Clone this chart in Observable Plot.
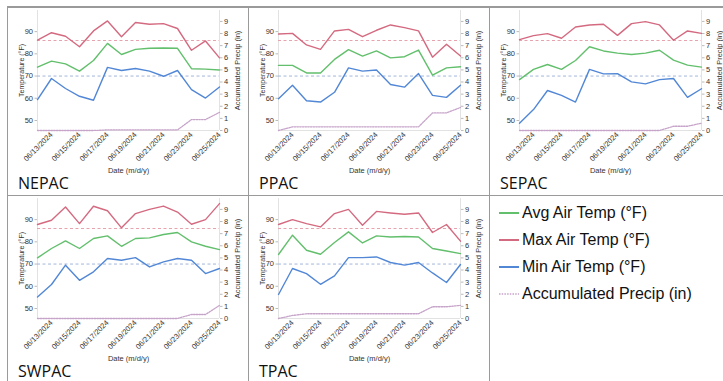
<!DOCTYPE html>
<html>
<head>
<meta charset="utf-8">
<script src="https://cdn.jsdelivr.net/npm/d3@7"></script>
<script src="https://cdn.jsdelivr.net/npm/@observablehq/plot@0.6"></script>
<style>
  html, body { margin: 0; padding: 0; background: #fff; }
  #root { position: relative; width: 723px; height: 381px; overflow: hidden; background: #fff; font-family: "Liberation Sans", Arial, sans-serif; }
  .hline, .vline { position: absolute; background: #9a9a9a; }
  .panel { position: absolute; width: 241px; height: 188px; }
  .panel svg { position: absolute; left: 0; top: 0; }
  .ptitle { position: absolute; left: 10px; top: 167px; font-family: "Open Sans", sans-serif; font-size: 16px; line-height: 16px; color: #111; }
  .legend { position: absolute; }
  .litem { position: absolute; left: 0; height: 20px; display: flex; align-items: center; white-space: nowrap; font-family: "Liberation Sans", Arial, sans-serif; font-size: 16px; color: #111; }
  .litem svg { margin-right: 3px; }
</style>
</head>
<body>
<div id="root"></div>
<script>
// ---- data ----
const dates = ["2024-06-12","2024-06-13","2024-06-14","2024-06-15","2024-06-16","2024-06-17","2024-06-18",
               "2024-06-19","2024-06-20","2024-06-21","2024-06-22","2024-06-23","2024-06-24","2024-06-25"];
const xTickDates = ["2024-06-13","2024-06-15","2024-06-17","2024-06-19","2024-06-21","2024-06-23","2024-06-25"];
const stations = ["NEPAC","PPAC","SEPAC","SWPAC","TPAC"];
const tempTicks = [50, 60, 70, 80, 90];
const precipTicks = [0,1,2,3,4,5,6,7,8,9];
const maxThreshold = 86;
const minThreshold = 70;

const nepacMax = [86.2,89.5,87.9,83.2,90.3,94.8,87.7,94.1,93.3,93.6,91.4,81.6,85.8,78.2];
const nepacAvg = [74.0,76.7,75.5,72.2,77.0,84.7,79.7,82.0,82.5,82.6,82.5,73.3,73.1,72.7];
const nepacMin = [59.4,68.9,64.4,60.9,59.1,73.9,72.5,73.4,72.2,69.9,72.5,63.9,60.1,65.1];
const nepacPrecip = [0,0,0,0,0,0.05,0.05,0.05,0.05,0.05,0.05,0.9,0.9,1.5];

const ppacMax = [88.9,89.2,84.0,82.0,90.3,91.0,87.7,90.6,93.0,91.8,90.3,78.5,84.3,79.0];
const ppacAvg = [74.8,74.8,71.4,71.4,77.5,81.9,79.0,81.3,78.2,78.7,81.7,70.4,73.7,74.2];
const ppacMin = [59.8,65.9,58.9,58.3,62.7,73.7,72.2,72.7,66.2,65.0,71.1,61.3,60.4,65.9];
const ppacPrecip = [0,0.3,0.3,0.3,0.3,0.3,0.3,0.3,0.3,0.3,0.3,1.45,1.45,1.9];

const sepacMax = [86.4,88.2,89.1,87.0,92.1,93.0,93.3,88.3,93.6,94.5,93.0,86.1,90.3,89.2];
const sepacAvg = [68.4,73.0,75.2,73.0,77.0,83.2,81.3,80.3,79.7,80.3,81.6,77.2,74.9,74.0];
const sepacMin = [48.8,54.9,63.5,61.3,58.3,73.0,71.0,71.1,67.4,66.5,68.4,68.9,60.4,64.3];
const sepacPrecip = [0,0,0,0,0,0,0,0,0,0,0,0.35,0.35,0.6];

const swpacMax = [87.8,89.7,95.7,88.2,96.0,94.0,86.3,92.7,94.6,96.1,93.4,87.9,90.0,97.2];
const swpacAvg = [72.8,77.0,80.4,77.0,81.5,82.7,78.0,81.5,81.8,83.3,84.2,80.0,78.0,76.5];
const swpacMin = [55.2,60.8,69.5,62.7,66.5,72.5,71.7,72.9,68.7,71.0,72.5,71.7,65.7,68.0];
const swpacPrecip = [0,0,0,0,0,0,0,0,0,0,0,0.33,0.33,1.08];

const tpacMax = [87.8,90.0,88.2,86.7,92.7,94.6,87.5,93.7,93.0,92.4,93.0,84.2,87.8,80.3];
const tpacAvg = [74.3,83.0,76.2,74.4,79.7,84.5,79.5,82.7,82.2,82.4,82.2,77.0,75.9,74.7];
const tpacMin = [56.3,68.0,65.7,60.9,64.7,72.9,72.9,73.2,70.7,69.5,70.7,66.0,61.7,69.8];
const tpacPrecip = [0,0.25,0.39,0.39,0.39,0.39,0.39,0.39,0.39,0.39,0.39,0.97,0.97,1.08];

const seriesLabels = ["Avg Air Temp (°F)","Max Air Temp (°F)","Min Air Temp (°F)","Accumulated Precip (in)"];

// ---- styling ----
const cAvg = "#62bf6c", cMax = "#d46a80", cMin = "#5287d6", cPrecip = "#c6a3c9";
const cMaxRef = "#e6a3ae", cMinRef = "#a3b7da";

const parse = d3.utcParse("%Y-%m-%d");
const root = document.getElementById("root");

function line(cls, x, y, w, h) {
  const d = document.createElement("div");
  d.className = cls;
  Object.assign(d.style, {left: x + "px", top: y + "px", width: w + "px", height: h + "px"});
  root.appendChild(d);
}
// table borders
line("hline", 7, 6, 716, 1.5);
line("hline", 7, 194.5, 716, 1.5);
line("vline", 6.5, 6, 1.5, 375);
line("vline", 247.5, 6, 1.5, 375);
line("vline", 488.5, 6, 1.5, 375);

const series = {
  NEPAC: [nepacAvg, nepacMax, nepacMin, nepacPrecip],
  PPAC: [ppacAvg, ppacMax, ppacMin, ppacPrecip],
  SEPAC: [sepacAvg, sepacMax, sepacMin, sepacPrecip],
  SWPAC: [swpacAvg, swpacMax, swpacMin, swpacPrecip],
  TPAC: [tpacAvg, tpacMax, tpacMin, tpacPrecip]
};
const cellPos = [[8,8],[249,8],[490,8],[8,196],[249,196]];

const xDomain = [parse(dates[0]), parse(dates[dates.length - 1])];
const xTicks = xTickDates.map(parse);
const tempDomain = [45.5, 99.5];
const precipDomain = [0, 9.9];

stations.forEach((name, k) => {
  const [avg, max, min, precip] = series[name];
  const rows = dates.map((d, i) => ({date: parse(d), avg: avg[i], max: max[i], min: min[i], precip: precip[i]}));
  const common = {
    width: 241, height: 166,
    marginLeft: 29, marginRight: 30, marginTop: 2, marginBottom: 44,
    x: {type: "utc", domain: xDomain},
    style: {background: "transparent", fontFamily: "'Liberation Sans', Arial, sans-serif", fontSize: "7px", color: "#333", overflow: "visible"}
  };
  const p1 = Plot.plot({
    ...common,
    y: {domain: tempDomain},
    marks: [
      Plot.ruleX(xDomain, {stroke: "#e2e2e2"}),
      Plot.ruleY([tempDomain[0]], {stroke: "#e2e2e2"}),
      Plot.ruleY([maxThreshold], {stroke: cMaxRef, strokeDasharray: "3,2.5", strokeWidth: 1}),
      Plot.ruleY([minThreshold], {stroke: cMinRef, strokeDasharray: "3,2.5", strokeWidth: 1}),
      Plot.axisX({ticks: xTicks, tickFormat: d3.utcFormat("%m/%d/%Y"), tickRotate: -45, tickSize: 0, tickPadding: 3,
                  label: "Date (m/d/y)", labelAnchor: "center", labelOffset: 42, labelArrow: "none", fontSize: 7.5}),
      Plot.axisY({ticks: tempTicks, tickSize: 2.5, tickPadding: 2, stroke: "#bbb", label: null, fontSize: 7.5}),
      Plot.axisY({ticks: [], label: "Temperature (°F)", labelAnchor: "center", labelOffset: 18, labelArrow: "none", fontSize: 7}),
      Plot.lineY(rows, {x: "date", y: "max", stroke: cMax, strokeWidth: 1.4}),
      Plot.lineY(rows, {x: "date", y: "avg", stroke: cAvg, strokeWidth: 1.4}),
      Plot.lineY(rows, {x: "date", y: "min", stroke: cMin, strokeWidth: 1.4})
    ]
  });
  const p2 = Plot.plot({
    ...common,
    x: {type: "utc", domain: xDomain, axis: null},
    y: {domain: precipDomain},
    marks: [
      Plot.axisY({anchor: "right", ticks: precipTicks, tickSize: 2.5, tickPadding: 2, stroke: "#bbb",
                  label: "Accumulated Precip (in)", labelAnchor: "center", labelOffset: 20, labelArrow: "none", fontSize: 7.5}),
      Plot.lineY(rows, {x: "date", y: "precip", stroke: cPrecip, strokeWidth: 1.3, strokeDasharray: "1.5,1.2"})
    ]
  });
  const panel = document.createElement("div");
  panel.className = "panel";
  panel.style.left = cellPos[k][0] + "px";
  panel.style.top = cellPos[k][1] + "px";
  panel.appendChild(p1);
  panel.appendChild(p2);
  const t = document.createElement("div");
  t.className = "ptitle";
  t.textContent = name;
  panel.appendChild(t);
  root.appendChild(panel);
});

// legend
const legend = document.createElement("div");
legend.className = "legend";
legend.style.left = "499px";
legend.style.top = "203px";
const legendColors = [cAvg, cMax, cMin, cPrecip];
seriesLabels.forEach((lab, i) => {
  const it = document.createElement("div");
  it.className = "litem";
  it.style.top = (i * 27) + "px";
  const dash = i === 3 ? ' stroke-dasharray="1.5,1.2"' : "";
  const sw = i === 3 ? 1.3 : 2;
  it.innerHTML = `<svg width="20" height="6"><line x1="0" y1="3" x2="20" y2="3" stroke="${legendColors[i]}" stroke-width="${sw}"${dash}/></svg><span>${lab}</span>`;
  legend.appendChild(it);
});
root.appendChild(legend);
</script>
</body>
</html>
